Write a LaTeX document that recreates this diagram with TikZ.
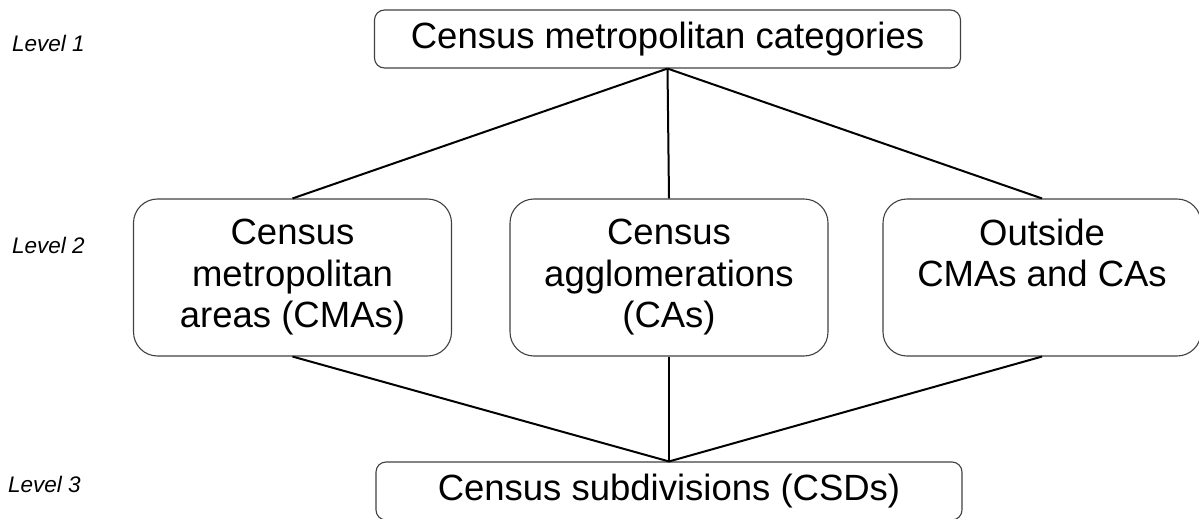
\documentclass[tikz,border=0pt]{standalone}
\usepackage{fontspec}
\setmainfont{Liberation Sans}
\begin{document}
\begin{tikzpicture}[x=1pt,y=-1pt,
    catbox/.style={draw=black!75, line width=1.1pt, rounded corners=10pt, minimum width=586pt, minimum height=58pt, inner sep=0pt, font=\fontsize{36.5}{41.5}\selectfont},
    areabox/.style={draw=black!75, line width=1.1pt, rounded corners=24pt, minimum width=318pt, minimum height=157pt, inner sep=0pt, align=center, font=\fontsize{36.5}{41.5}\selectfont},
    level/.style={anchor=base west, inner sep=0pt, font=\fontsize{22.5}{26}\selectfont\itshape},
    link/.style={line width=2pt}]

    \useasboundingbox (0,0) rectangle (1199,519);

    %% Level labels
    \node[level] (lvlone) at (12,52) {Level 1};
    \node[level] (lvltwo) at (12,253) {Level 2};
    \node[level] (lvlthree) at (8,492) {Level 3};

    % Top box
    \node[catbox] (cmcat) at (667.5,39) {Census metropolitan categories};

    % Middle boxes
    \node[areabox] (cma) at (292.5,277.5) {Census\\metropolitan\\areas (CMAs)};
    \node[areabox] (ca) at (669,277.5) {Census\\agglomerations\\(CAs)};
    \node[areabox] (outside) at (1042,277.5) {Outside\\CMAs and CAs\\\vphantom{(}};

    % Bottom box
    \node[catbox] (csd) at (669,491) {Census subdivisions (CSDs)};

    % Links from top box
    \draw[link] (cmcat.south) -- (cma.north);
    \draw[link] (cmcat.south) -- (ca.north);
    \draw[link] (cmcat.south) -- (outside.north);

    % Links to bottom box
    \draw[link] (cma.south) -- (csd.north);
    \draw[link] (ca.south) -- (csd.north);
    \draw[link] (outside.south) -- (csd.north);

\end{tikzpicture}
\end{document}
